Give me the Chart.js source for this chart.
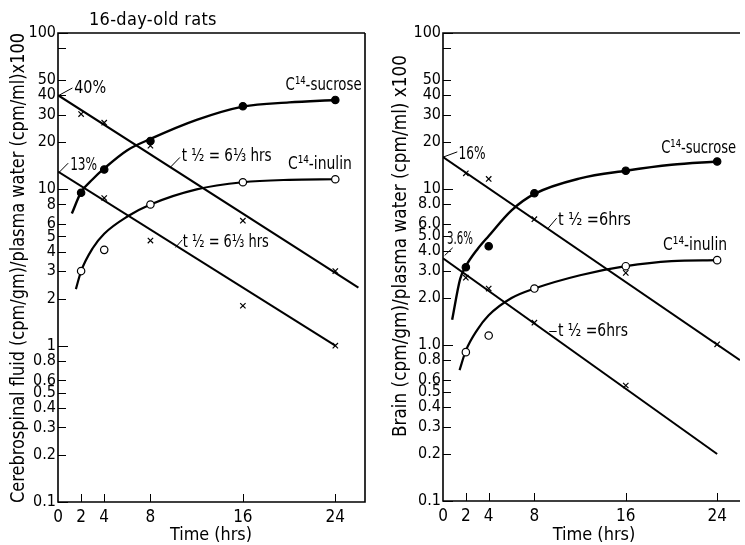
<!DOCTYPE html>
<html>
<head>
<meta charset="utf-8">
<script src="https://cdn.jsdelivr.net/npm/chart.js@4.4.0/dist/chart.umd.min.js"></script>
<style>
  body { margin: 0; background: #fff; width: 745px; height: 545px; overflow: hidden; position: relative; }
  .panel { position: absolute; top: 0; height: 545px; }
  #left { left: 0; width: 370px; }
  #right { left: 370px; width: 375px; }
  #title { position: absolute; left: 89px; top: 8px; font: 18px 'DejaVu Sans Condensed', 'DejaVu Sans', sans-serif; color: #000; letter-spacing: 0.3px; }
</style>
</head>
<body>
<div class="panel" id="left"><canvas id="csf" width="370" height="545"></canvas></div>
<div class="panel" id="right"><canvas id="brain" width="375" height="545"></canvas></div>
<div id="title">16-day-old rats</div>
<script>
// sampling times (hrs) and axis ticks
const hours = [2, 4, 8, 16, 24];
const xTickValues = [0, 2, 4, 8, 16, 24];
const yTickValues = [100, 80, 50, 40, 30, 20, 10, 8, 6, 5, 4, 3, 2, 1, 0.8, 0.6, 0.5, 0.4, 0.3, 0.2, 0.1];
const csfTickLabels = ['100', '', '50', '40', '30', '20', '10', '8', '6', '5', '4', '3', '2', '1', '0.8', '0.6', '0.5', '0.4', '0.3', '0.2', '0.1'];
const brainTickLabels = ['100', '', '50', '40', '30', '20', '10', '8.0', '6.0', '5.0', '4.0', '3.0', '2.0', '1.0', '0.8', '0.6', '0.5', '0.4', '0.3', '0.2', '0.1'];

// cerebrospinal fluid (left panel)
const csfSucrose = [9.5, 13.4, 20.4, 34, 37.3];
const csfInulin = [3.0, 4.1, 8.0, 11.1, 11.6];
const csfSucroseCross = [30.3, 26.7, 19, 6.3, 3.0];
const csfInulinCross = [null, 8.8, 4.7, 1.8, 1.0];
const csfSucroseCurveHours = [1.2, 2, 3, 4, 6, 8, 12, 16, 20, 24];
const csfSucroseCurve = [7.0, 9.6, 11.6, 13.6, 17.8, 21, 27.8, 33.8, 36, 37.3];
const csfInulinCurveHours = [1.55, 2, 3, 4, 6, 8, 12, 16, 20, 24];
const csfInulinCurve = [2.3, 3.0, 4.2, 5.2, 6.7, 8.0, 10, 11.1, 11.5, 11.6];
const csfSucroseDecayHours = [0, 26];
const csfSucroseDecay = [40, 2.35];
const csfInulinDecayHours = [0, 24];
const csfInulinDecay = [13, 1.0];

// brain (right panel)
const brainSucrose = [3.15, 4.3, 9.4, 13.1, 15.0];
const brainInulin = [0.9, 1.15, 2.3, 3.2, 3.5];
const brainSucroseCross = [12.6, 11.6, 6.4, 2.9, 1.01];
const brainInulinCross = [2.7, 2.3, 1.39, 0.55, null];
const brainSucroseCurveHours = [0.8, 1.5, 2, 3, 4, 6, 8, 12, 16, 20, 24];
const brainSucroseCurve = [1.45, 2.65, 3.2, 4.1, 5.0, 7.3, 9.3, 11.7, 13.1, 14.3, 15.0];
const brainInulinCurveHours = [1.45, 2, 3, 4, 6, 8, 12, 16, 20, 24];
const brainInulinCurve = [0.69, 0.92, 1.25, 1.55, 2.0, 2.3, 2.8, 3.2, 3.45, 3.5];
const brainSucroseDecayHours = [0, 26];
const brainSucroseDecay = [16, 0.8];
const brainInulinDecayHours = [0, 24];
const brainInulinDecay = [3.6, 0.2];

const FONT = "'DejaVu Sans Condensed', 'DejaVu Sans', sans-serif";
Chart.defaults.font.family = FONT;
Chart.defaults.color = '#000';

function pts(xs, ys) {
    return xs.map((x, i) => ({ x: x, y: ys[i] })).filter((p) => p.y !== null);
}

// frame, inward tick marks, labels and leader lines
const figurePlugin = {
    id: 'figure',
    afterDraw(chart, args, opts) {
        const { ctx, chartArea: a, scales } = chart;
        const x = scales.x, y = scales.y;
        ctx.save();
        ctx.strokeStyle = '#000';
        ctx.fillStyle = '#000';

        ctx.lineWidth = 1.6;
        ctx.beginPath();
        ctx.moveTo(a.right, a.top);
        ctx.lineTo(a.left, a.top);
        ctx.lineTo(a.left, a.bottom);
        ctx.lineTo(a.right, a.bottom);
        if (opts.rightSide) ctx.lineTo(a.right, a.top);
        ctx.stroke();

        ctx.lineWidth = 1;
        ctx.beginPath();
        yTickValues.forEach((v) => {
            const py = Math.round(y.getPixelForValue(v)) + 0.5;
            const len = [100, 10, 1, 0.1].includes(v) ? 10 : 8;
            ctx.moveTo(a.left, py);
            ctx.lineTo(a.left + len, py);
        });
        xTickValues.slice(1).forEach((v) => {
            const px = Math.round(x.getPixelForValue(v)) + 0.5;
            ctx.moveTo(px, a.bottom);
            ctx.lineTo(px, a.bottom - 8);
        });
        ctx.stroke();

        ctx.textBaseline = 'middle';
        ctx.textAlign = 'left';
        ctx.font = '18px ' + FONT;
        opts.notes.forEach((n) => {
            if (n.lead) {
                ctx.beginPath();
                ctx.moveTo(x.getPixelForValue(n.lead[0][0]), y.getPixelForValue(n.lead[0][1]));
                ctx.lineTo(x.getPixelForValue(n.lead[1][0]), y.getPixelForValue(n.lead[1][1]));
                ctx.stroke();
            }
            ctx.fillText(n.text, x.getPixelForValue(n.x), y.getPixelForValue(n.y), n.w);
        });

        ctx.textAlign = 'center';
        ctx.fillText(opts.xTitle.text, opts.xTitle.cx, opts.xTitle.cy, opts.xTitle.w);
        ctx.translate(opts.yTitle.cx, opts.yTitle.cy);
        ctx.rotate(-Math.PI / 2);
        ctx.font = '19px ' + FONT;
        ctx.fillText(opts.yTitle.text, 0, 0, opts.yTitle.w);
        ctx.restore();
    }
};

function makeChart(id, d) {
    const ctx = document.getElementById(id).getContext('2d');
    const marker = (data, style, fill) => ({
        type: 'scatter', data: data, showLine: false,
        pointStyle: style, pointRadius: style === 'crossRot' ? 3.8 : 3.7,
        pointBorderWidth: 1.2, pointBorderColor: '#000',
        pointBackgroundColor: fill, pointHoverRadius: 0,
    });
    const line = (data, smooth, width) => ({
        type: 'line', data: data, borderColor: '#000', borderWidth: width,
        pointRadius: 0, fill: false,
        cubicInterpolationMode: smooth ? 'monotone' : 'default', tension: 0,
    });

    return new Chart(ctx, {
        data: {
            datasets: [
                marker(pts(hours, d.sucrose), 'circle', '#000'),
                marker(pts(hours, d.inulin), 'circle', '#fff'),
                marker(pts(hours, d.sucroseCross), 'crossRot', '#000'),
                marker(pts(hours, d.inulinCross), 'crossRot', '#000'),
                line(pts(d.sucroseCurveHours, d.sucroseCurve), true, 2.4),
                line(pts(d.inulinCurveHours, d.inulinCurve), true, 2.2),
                line(pts(d.sucroseDecayHours, d.sucroseDecay), false, 2),
                line(pts(d.inulinDecayHours, d.inulinDecay), false, 2),
            ],
        },
        options: {
            responsive: false,
            animation: false,
            events: [],
            layout: { padding: { top: 33, right: d.padRight, bottom: 0, left: 0 } },
            plugins: {
                legend: { display: false },
                tooltip: { enabled: false },
                figure: d.figure,
            },
            scales: {
                x: {
                    type: 'linear', min: 0, max: d.xMax,
                    grid: { display: false, drawTicks: false },
                    border: { display: false },
                    afterFit: (scale) => { scale.height = d.xAxisHeight; },
                    afterBuildTicks: (scale) => { scale.ticks = xTickValues.map((v) => ({ value: v })); },
                    ticks: { autoSkip: false, maxRotation: 0, padding: 5, font: { size: 17 } },
                },
                y: {
                    type: 'logarithmic', min: 0.1, max: 100,
                    grid: { display: false, drawTicks: false },
                    border: { display: false },
                    afterFit: (scale) => { scale.width = d.yAxisWidth; },
                    afterBuildTicks: (scale) => { scale.ticks = yTickValues.map((v) => ({ value: v })); },
                    ticks: {
                        autoSkip: false, padding: 2, font: { size: 16 },
                        callback: (v) => d.tickLabels[yTickValues.indexOf(v)],
                    },
                },
            },
        },
        plugins: [figurePlugin],
    });
}

makeChart('csf', {
    sucrose: csfSucrose, inulin: csfInulin,
    sucroseCross: csfSucroseCross, inulinCross: csfInulinCross,
    sucroseCurveHours: csfSucroseCurveHours, sucroseCurve: csfSucroseCurve,
    inulinCurveHours: csfInulinCurveHours, inulinCurve: csfInulinCurve,
    sucroseDecayHours: csfSucroseDecayHours, sucroseDecay: csfSucroseDecay,
    inulinDecayHours: csfInulinDecayHours, inulinDecay: csfInulinDecay,
    tickLabels: csfTickLabels,
    xMax: 26.57, padRight: 2, xAxisHeight: 43, yAxisWidth: 58,
    figure: {
        rightSide: true,
        xTitle: { text: 'Time (hrs)', cx: 211, cy: 535, w: 82 },
        yTitle: { text: 'Cerebrospinal fluid (cpm/gm)/plasma water (cpm/ml)x100', cx: 19, cy: 268, w: 470 },
        notes: [
            { text: '40%', x: 1.4, y: 44, w: 32, lead: [[0.1, 40], [1.25, 44.5]] },
            { text: '13%', x: 1.05, y: 14.3, w: 27, lead: [[0.03, 12.7], [0.88, 14.7]] },
            { text: 't ½ = 6⅓ hrs', x: 10.7, y: 16.3, w: 90, lead: [[9.75, 13.9], [10.55, 16.0]] },
            { text: 't ½ = 6⅓ hrs', x: 10.8, y: 4.55, w: 86, lead: [[10.17, 4.25], [10.75, 4.75]] },
            { text: 'C¹⁴-sucrose', x: 19.7, y: 46, w: 76 },
            { text: 'C¹⁴-inulin', x: 19.9, y: 14.5, w: 64 },
        ],
    },
});

makeChart('brain', {
    sucrose: brainSucrose, inulin: brainInulin,
    sucroseCross: brainSucroseCross, inulinCross: brainInulinCross,
    sucroseCurveHours: brainSucroseCurveHours, sucroseCurve: brainSucroseCurve,
    inulinCurveHours: brainInulinCurveHours, inulinCurve: brainInulinCurve,
    sucroseDecayHours: brainSucroseDecayHours, sucroseDecay: brainSucroseDecay,
    inulinDecayHours: brainInulinDecayHours, inulinDecay: brainInulinDecay,
    tickLabels: brainTickLabels,
    xMax: 26, padRight: 0, xAxisHeight: 44, yAxisWidth: 73,
    figure: {
        rightSide: false,
        xTitle: { text: 'Time (hrs)', cx: 224, cy: 535, w: 84 },
        yTitle: { text: 'Brain (cpm/gm)/plasma water (cpm/ml) x100', cx: 31, cy: 246, w: 382 },
        notes: [
            { text: '16%', x: 1.35, y: 16.6, w: 27, lead: [[0, 16], [1.25, 17.3]] },
            { text: '3.6%', x: 0.35, y: 4.75, w: 26, lead: [[0.15, 3.75], [0.85, 4.2]] },
            { text: 't ½ =6hrs', x: 10.06, y: 6.26, w: 73, lead: [[9.2, 5.6], [9.95, 6.5]] },
            { text: 't ½ =6hrs', x: 10.06, y: 1.216, w: 70, lead: [[9.3, 1.22], [9.95, 1.22]] },
            { text: 'C¹⁴-sucrose', x: 19.1, y: 18.3, w: 75 },
            { text: 'C¹⁴-inulin', x: 19.27, y: 4.38, w: 64 },
        ],
    },
});
</script>
</body>
</html>
